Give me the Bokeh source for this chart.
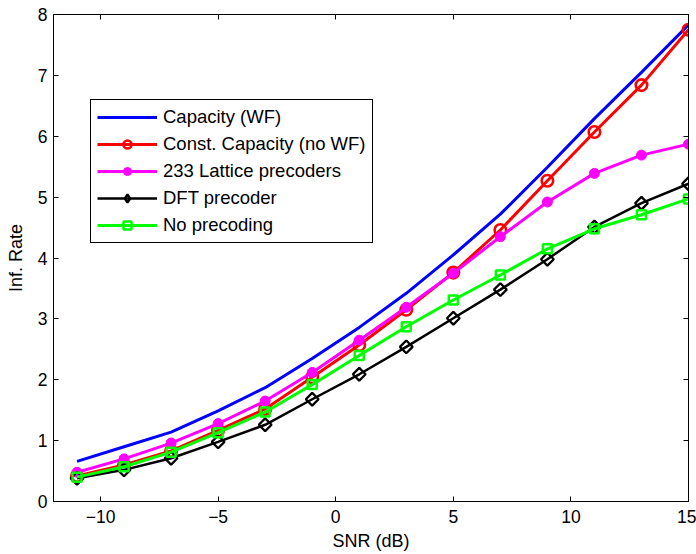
import numpy as np
from bokeh.plotting import figure
from bokeh.models import Range1d, LinearAxis, FixedTicker
from bokeh.embed import file_html
from bokeh.resources import INLINE

# ---- data ----
snr = [-11, -9, -7, -5, -3, -1, 1, 3, 5, 7, 9, 11, 13, 15]
cap_wf = [0.66, 0.90, 1.14, 1.49, 1.87, 2.35, 2.86, 3.42, 4.05, 4.72, 5.49, 6.29, 7.05, 7.83]
const_cap = [0.42, 0.60, 0.83, 1.17, 1.52, 2.04, 2.57, 3.15, 3.76, 4.46, 5.27, 6.07, 6.84, 7.75]
lattice = [0.48, 0.70, 0.96, 1.28, 1.65, 2.12, 2.65, 3.19, 3.75, 4.35, 4.92, 5.39, 5.69, 5.87]
dft = [0.38, 0.52, 0.71, 0.98, 1.26, 1.68, 2.09, 2.54, 3.01, 3.48, 3.98, 4.51, 4.90, 5.22]
no_prec = [0.40, 0.57, 0.81, 1.13, 1.47, 1.92, 2.40, 2.87, 3.31, 3.72, 4.15, 4.48, 4.71, 4.97]

x_ticks = [-10, -5, 0, 5, 10, 15]
x_tick_labels = {-10: "\u221210", -5: "\u22125"}
y_ticks = [0, 1, 2, 3, 4, 5, 6, 7, 8]

labels = ["Capacity (WF)", "Const. Capacity (no WF)", "233 Lattice precoders",
          "DFT precoder", "No precoding"]

FONT = "Liberation Sans"

p = figure(width=696, height=554, x_range=Range1d(-12, 15), y_range=Range1d(0, 8),
           output_backend="svg", toolbar_location=None,
           min_border_left=53, min_border_right=8, min_border_top=14, min_border_bottom=53)
p.xgrid.visible = False
p.ygrid.visible = False
p.outline_line_color = "black"
p.outline_line_alpha = 1.0
p.outline_line_width = 1
p.background_fill_color = "white"
p.border_fill_color = "white"


def style_axis(ax, ticks):
    ax.ticker = FixedTicker(ticks=ticks)
    ax.major_tick_in = 5
    ax.major_tick_out = 0
    ax.minor_tick_line_color = None
    ax.axis_line_color = "black"
    ax.major_tick_line_color = "black"
    ax.major_label_text_font = FONT
    ax.major_label_text_font_size = "17.5px"
    ax.major_label_text_color = "black"
    ax.axis_label_text_font = FONT
    ax.axis_label_text_font_size = "18px"
    ax.axis_label_text_font_style = "normal"
    ax.axis_label_text_color = "black"


xa = p.xaxis[0]
style_axis(xa, x_ticks)
xa.major_label_overrides = x_tick_labels
xa.axis_label = "SNR (dB)"
xa.major_label_standoff = 8
xa.axis_label_standoff = 5

ya = p.yaxis[0]
style_axis(ya, y_ticks)
ya.axis_label = "Inf. Rate"
ya.major_label_standoff = 6
ya.axis_label_standoff = 9

for loc, ticks in (("right", y_ticks), ("above", x_ticks)):
    ax = LinearAxis()
    style_axis(ax, ticks)
    ax.major_label_text_font_size = "1px"
    ax.major_label_text_alpha = 0
    ax.major_label_standoff = 0
    p.add_layout(ax, loc)

# ---- series ----
p.line(snr, cap_wf, color="#0000ff", line_width=3, legend_label=labels[0])

p.line(snr, const_cap, color="#ff0000", line_width=3, legend_label=labels[1])
p.scatter(snr, const_cap, marker="circle", size=11.5, fill_color=None,
          line_color="#ff0000", line_width=2.6, legend_label=labels[1])

p.line(snr, lattice, color="#ff00ff", line_width=3, legend_label=labels[2])
p.scatter(snr, lattice, marker="circle", size=10, fill_color="#ff00ff",
          line_color="#ff00ff", line_width=1, legend_label=labels[2])

p.line(snr, dft, color="black", line_width=2.5, legend_label=labels[3])
p.scatter(snr, dft, marker="square", angle=np.pi / 4, size=9, fill_color=None,
          line_color="black", line_width=2.3)
# legend-only diamond glyph (no data point drawn)
p.scatter([float("nan")], [float("nan")], marker="diamond", size=17, fill_color=None,
          line_color="black", line_width=2.3, legend_label=labels[3])

p.line(snr, no_prec, color="#00ff00", line_width=3, legend_label=labels[4])
p.scatter(snr, no_prec, marker="square", size=9, fill_color=None,
          line_color="#00ff00", line_width=2.5, legend_label=labels[4])

lg = p.legend[0]
lg.location = (37, 258)
lg.margin = 0
lg.padding = 6
lg.spacing = 5
lg.glyph_width = 60
lg.glyph_height = 20
lg.label_height = 20
lg.label_standoff = 6
lg.label_text_font = FONT
lg.label_text_font_size = "18.5px"
lg.label_text_color = "black"
lg.border_line_color = "black"
lg.border_line_width = 1
lg.border_line_alpha = 1.0
lg.background_fill_color = "white"
lg.background_fill_alpha = 1.0

open("out.html", "w").write(file_html(p, INLINE))
